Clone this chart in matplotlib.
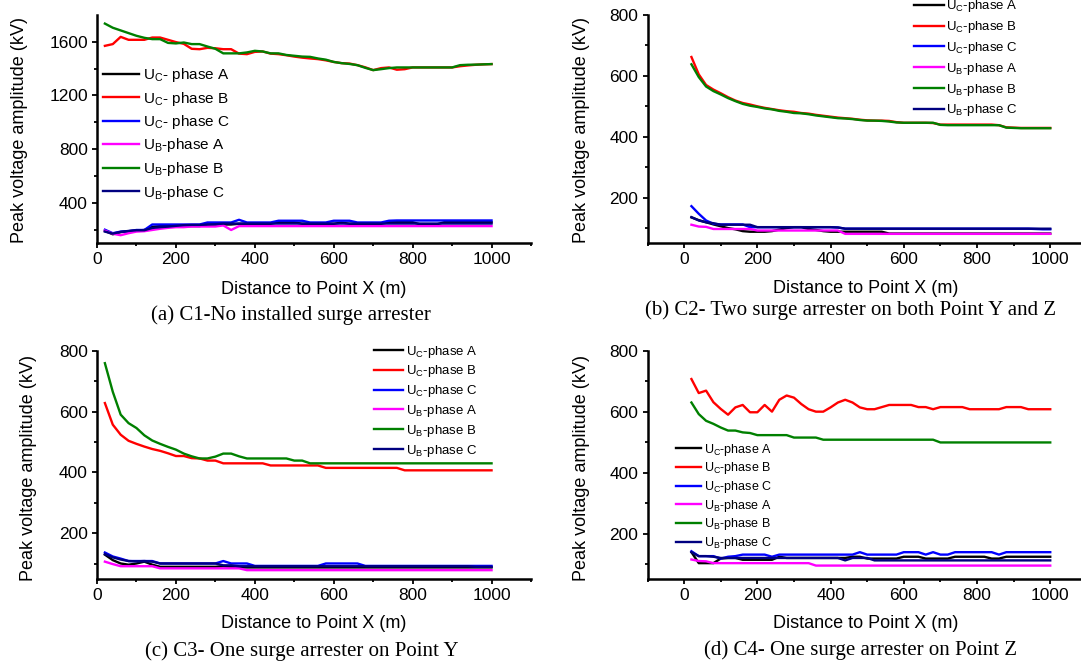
import matplotlib
matplotlib.use("Agg")
import matplotlib.pyplot as plt
from matplotlib.ticker import FixedLocator

plt.rcParams["font.family"] = ["Liberation Sans", "DejaVu Sans"]
plt.rcParams["mathtext.fontset"] = "custom"
plt.rcParams["mathtext.rm"] = "Liberation Sans"
plt.rcParams["mathtext.default"] = "regular"

W, H = 1081, 664

# distance to point X (m), shared by every case
DIST = [20, 40, 60, 80, 100, 120, 140, 160, 180, 200,
        220, 240, 260, 280, 300, 320, 340, 360, 380, 400,
        420, 440, 460, 480, 500, 520, 540, 560, 580, 600,
        620, 640, 660, 680, 700, 720, 740, 760, 780, 800,
        820, 840, 860, 880, 900, 920, 940, 960, 980, 1000]

# ---- C1: no surge arrester (kV)
c1_uc_a = [190, 165, 181, 188, 192, 197, 220, 226, 226, 226,
           226, 226, 226, 238, 238, 238, 238, 243, 243, 243,
           243, 243, 255, 255, 255, 243, 243, 243, 243, 243,
           253, 243, 243, 243, 243, 243, 255, 255, 255, 255,
           238, 238, 238, 255, 255, 255, 255, 255, 255, 255]
c1_uc_b = [1570, 1583, 1637, 1615, 1615, 1615, 1632, 1632, 1615, 1598,
           1585, 1548, 1545, 1555, 1552, 1545, 1545, 1512, 1508, 1525,
           1528, 1512, 1508, 1500, 1490, 1482, 1476, 1471, 1462, 1450,
           1441, 1438, 1426, 1410, 1389, 1404, 1409, 1392, 1396, 1409,
           1409, 1409, 1409, 1409, 1409, 1418, 1424, 1429, 1432, 1434]
c1_uc_c = [199, 173, 185, 188, 197, 197, 238, 238, 238, 238,
           238, 238, 238, 253, 253, 253, 253, 273, 253, 253,
           253, 253, 266, 266, 266, 266, 253, 253, 253, 266,
           266, 266, 253, 253, 253, 253, 266, 268, 268, 268,
           268, 268, 268, 268, 268, 268, 268, 268, 268, 268]
c1_ub_a = [192, 169, 158, 173, 185, 188, 197, 206, 213, 218,
           218, 223, 223, 223, 223, 231, 197, 226, 226, 226,
           226, 226, 226, 226, 226, 226, 226, 226, 226, 226,
           226, 226, 226, 226, 226, 226, 226, 226, 226, 226,
           226, 226, 226, 226, 226, 226, 226, 226, 226, 226]
c1_ub_b = [1736, 1705, 1685, 1665, 1645, 1630, 1620, 1620, 1592, 1588,
           1595, 1583, 1583, 1565, 1548, 1514, 1514, 1514, 1521, 1533,
           1528, 1514, 1514, 1502, 1496, 1490, 1488, 1476, 1467, 1450,
           1441, 1435, 1426, 1406, 1389, 1396, 1404, 1409, 1409, 1409,
           1409, 1409, 1409, 1409, 1409, 1426, 1429, 1430, 1432, 1434]
c1_ub_c = [185, 170, 183, 190, 195, 195, 212, 218, 222, 228,
           233, 235, 235, 238, 240, 245, 245, 245, 245, 245,
           245, 245, 245, 245, 245, 245, 245, 245, 245, 245,
           245, 245, 245, 245, 245, 245, 245, 245, 245, 245,
           245, 245, 245, 245, 245, 245, 245, 245, 245, 245]

# ---- C2: arresters on both point Y and Z (kV)
c2_uc_a = [135, 126, 119, 112, 106, 100, 96, 90, 88, 88,
           88, 90, 95, 100, 103, 103, 97, 94, 90, 88,
           88, 88, 88, 88, 88, 88, 88, 82, 82, 82,
           82, 82, 82, 82, 82, 82, 82, 82, 82, 82,
           82, 82, 82, 82, 82, 82, 82, 82, 82, 82]
c2_uc_b = [662, 605, 570, 555, 543, 530, 519, 511, 506, 500,
           495, 491, 487, 484, 482, 478, 476, 472, 469, 466,
           463, 461, 459, 456, 454, 453, 453, 452, 448, 446,
           446, 446, 446, 445, 440, 440, 440, 440, 440, 440,
           440, 440, 438, 431, 430, 429, 429, 429, 429, 429]
c2_uc_c = [172, 147, 125, 114, 112, 112, 112, 112, 103, 103,
           103, 103, 103, 103, 103, 103, 103, 103, 103, 103,
           102, 98, 98, 98, 98, 98, 98, 98, 98, 98,
           98, 98, 98, 98, 98, 98, 98, 98, 98, 98,
           98, 98, 98, 98, 98, 98, 98, 97, 96, 96]
c2_ub_a = [111, 105, 104, 97, 97, 97, 97, 97, 97, 92,
           92, 92, 92, 92, 92, 92, 92, 92, 92, 92,
           92, 81, 81, 81, 81, 81, 81, 81, 81, 81,
           81, 81, 81, 81, 81, 81, 81, 81, 81, 81,
           81, 81, 81, 81, 81, 81, 81, 81, 81, 81]
c2_ub_b = [638, 596, 565, 550, 539, 527, 517, 508, 502, 498,
           493, 490, 485, 482, 478, 477, 474, 470, 467, 464,
           461, 460, 458, 455, 453, 453, 452, 450, 447, 446,
           446, 446, 446, 446, 439, 438, 438, 438, 438, 438,
           438, 438, 438, 430, 429, 428, 428, 428, 428, 428]
c2_ub_c = [136, 125, 119, 116, 111, 111, 111, 111, 111, 103,
           103, 103, 103, 103, 103, 103, 103, 103, 103, 103,
           102, 98, 98, 98, 98, 98, 98, 98, 98, 98,
           98, 98, 98, 98, 98, 98, 98, 98, 98, 98,
           98, 98, 98, 98, 98, 98, 98, 98, 98, 98]

# ---- C3: arrester on point Y (kV)
c3_uc_a = [130, 112, 101, 97, 101, 107, 97, 90, 90, 90,
           90, 90, 90, 90, 90, 92, 90, 88, 88, 88,
           88, 88, 88, 88, 88, 88, 88, 88, 88, 88,
           88, 88, 88, 88, 88, 88, 88, 88, 88, 88,
           88, 88, 88, 88, 88, 88, 88, 88, 88, 88]
c3_uc_b = [628, 557, 524, 504, 494, 485, 477, 471, 463, 454,
           454, 447, 446, 439, 439, 430, 430, 430, 430, 430,
           430, 423, 423, 423, 423, 423, 423, 423, 415, 415,
           415, 415, 415, 415, 415, 415, 415, 415, 407, 407,
           407, 407, 407, 407, 407, 407, 407, 407, 407, 407]
c3_uc_c = [137, 124, 117, 109, 109, 109, 109, 101, 101, 101,
           101, 101, 101, 101, 101, 109, 101, 101, 101, 93,
           93, 93, 93, 93, 93, 93, 93, 93, 101, 101,
           101, 101, 101, 93, 93, 93, 93, 93, 93, 93,
           93, 93, 93, 93, 93, 93, 93, 93, 93, 93]
c3_ub_a = [107, 99, 92, 92, 92, 92, 92, 85, 85, 85,
           85, 85, 85, 85, 85, 85, 85, 85, 79, 79,
           79, 79, 79, 79, 79, 79, 79, 79, 79, 79,
           79, 79, 79, 79, 79, 79, 79, 79, 79, 79,
           79, 79, 79, 79, 79, 79, 79, 79, 79, 79]
c3_ub_b = [759, 665, 590, 562, 546, 522, 505, 494, 484, 475,
           462, 453, 446, 446, 452, 462, 462, 453, 446, 446,
           446, 446, 446, 446, 439, 439, 430, 430, 430, 430,
           430, 430, 430, 430, 430, 430, 430, 430, 430, 430,
           430, 430, 430, 430, 430, 430, 430, 430, 430, 430]
c3_ub_c = [132, 121, 114, 109, 108, 109, 107, 101, 101, 101,
           101, 101, 101, 101, 101, 95, 95, 92, 92, 92,
           92, 92, 92, 92, 92, 92, 92, 92, 92, 92,
           92, 92, 92, 92, 92, 92, 92, 92, 92, 92,
           92, 92, 92, 92, 92, 92, 92, 90, 90, 90]

# ---- C4: arrester on point Z (kV)
c4_uc_a = [139, 103, 103, 103, 118, 120, 120, 114, 114, 114,
           114, 114, 124, 120, 120, 120, 120, 120, 120, 120,
           120, 120, 124, 124, 118, 118, 118, 118, 118, 124,
           124, 124, 118, 118, 118, 118, 124, 124, 124, 124,
           124, 118, 118, 124, 124, 124, 124, 124, 124, 124]
c4_uc_b = [707, 661, 669, 631, 609, 590, 614, 622, 598, 598,
           622, 600, 639, 653, 646, 625, 608, 600, 600, 614,
           630, 639, 630, 614, 608, 608, 615, 622, 622, 622,
           622, 615, 615, 608, 615, 615, 615, 615, 608, 608,
           608, 608, 608, 615, 615, 615, 608, 608, 608, 608]
c4_uc_c = [142, 126, 126, 126, 118, 124, 126, 131, 131, 131,
           131, 124, 131, 131, 131, 131, 131, 131, 131, 131,
           131, 131, 131, 139, 131, 131, 131, 131, 131, 139,
           139, 139, 131, 139, 131, 131, 139, 139, 139, 139,
           139, 139, 131, 139, 139, 139, 139, 139, 139, 139]
c4_ub_a = [115, 110, 109, 103, 103, 103, 103, 103, 103, 103,
           103, 103, 103, 103, 103, 103, 103, 95, 95, 95,
           95, 95, 95, 95, 95, 95, 95, 95, 95, 95,
           95, 95, 95, 95, 95, 95, 95, 95, 95, 95,
           95, 95, 95, 95, 95, 95, 95, 95, 95, 95]
c4_ub_b = [630, 592, 570, 560, 548, 538, 538, 532, 530, 523,
           523, 523, 523, 523, 515, 515, 515, 515, 508, 508,
           508, 508, 508, 508, 508, 508, 508, 508, 508, 508,
           508, 508, 508, 508, 499, 499, 499, 499, 499, 499,
           499, 499, 499, 499, 499, 499, 499, 499, 499, 499]
c4_ub_c = [139, 126, 126, 124, 120, 120, 120, 120, 120, 120,
           120, 120, 120, 120, 120, 120, 120, 120, 120, 120,
           120, 112, 120, 120, 120, 112, 112, 112, 112, 112,
           112, 112, 112, 112, 112, 112, 112, 112, 112, 112,
           112, 112, 112, 112, 112, 112, 112, 112, 112, 112]

COLORS = ["#000000", "#ff0000", "#0000ff", "#ff00ff", "#008000", "#000080"]

LABELS_SPACED = ["U$_C$- phase A", "U$_C$- phase B", "U$_C$- phase C",
                 "U$_B$-phase A", "U$_B$-phase B", "U$_B$-phase C"]
LABELS_TIGHT = ["U$_C$-phase A", "U$_C$-phase B", "U$_C$-phase C",
                "U$_B$-phase A", "U$_B$-phase B", "U$_B$-phase C"]

CAPTIONS = ["(a) C1-No installed surge arrester",
            "(b) C2- Two surge arrester on both Point Y and Z",
            "(c) C3- One surge arrester on Point Y",
            "(d) C4- One surge arrester on Point Z"]

PANELS = [
    dict(series=[c1_uc_a, c1_uc_b, c1_uc_c, c1_ub_a, c1_ub_b, c1_ub_c],
         labels=LABELS_SPACED, box=(97, 15, 531, 243), xlim=(0, 1100), ylim=(100, 1800),
         ymajor=[400, 800, 1200, 1600], yminor=[200, 600, 1000, 1400],
         leg=dict(at=(103, 66), fs=11, hl=2.38, tp=0.22, ls=0.36),
         ylab=(20, 130), xlab=(314, 289), cap=(291, 315)),
    dict(series=[c2_uc_a, c2_uc_b, c2_uc_c, c2_ub_a, c2_ub_b, c2_ub_c],
         labels=LABELS_TIGHT, box=(647.5, 15, 1081, 243.3), xlim=(-100, 1084), ylim=(50, 800),
         ymajor=[200, 400, 600, 800], yminor=[100, 300, 500, 700],
         leg=dict(at=(914, -1.5), fs=9.5, hl=2.27, tp=0.15, ls=0.36),
         ylab=(581, 130), xlab=(866, 288), cap=(851, 310)),
    dict(series=[c3_uc_a, c3_uc_b, c3_uc_c, c3_ub_a, c3_ub_b, c3_ub_c],
         labels=LABELS_TIGHT, box=(97, 350.7, 531, 579), xlim=(0, 1100), ylim=(50, 800),
         ymajor=[200, 400, 600, 800], yminor=[100, 300, 500, 700],
         leg=dict(at=(374, 343.5), fs=9.5, hl=2.23, tp=0.16, ls=0.29),
         ylab=(28.5, 468), xlab=(314, 624), cap=(302, 651)),
    dict(series=[c4_uc_a, c4_uc_b, c4_uc_c, c4_ub_a, c4_ub_b, c4_ub_c],
         labels=LABELS_TIGHT, box=(647.5, 350.7, 1081, 579.3), xlim=(-100, 1084), ylim=(50, 800),
         ymajor=[200, 400, 600, 800], yminor=[100, 300, 500, 700],
         leg=dict(at=(676, 441.5), fs=9, hl=2.0, tp=0.27, ls=0.22),
         ylab=(581, 468), xlab=(866, 624), cap=(861, 650)),
]

X_MAJOR = [0, 200, 400, 600, 800, 1000]
X_MINOR = [-100, 100, 300, 500, 700, 900, 1100]


def fig_xy(x, y):
    return x / W, 1 - y / H


fig = plt.figure(figsize=(W / 100, H / 100), dpi=100)

for panel, caption in zip(PANELS, CAPTIONS):
    left, top, right, bottom = panel["box"]
    ax = fig.add_axes([left / W, 1 - bottom / H, (right - left) / W, (bottom - top) / H])

    for values, color, label in zip(panel["series"], COLORS, panel["labels"]):
        ax.plot(DIST, values, color=color, lw=1.7, label=label)

    ax.set_xlim(*panel["xlim"])
    ax.set_ylim(*panel["ylim"])
    ax.xaxis.set_major_locator(FixedLocator(X_MAJOR))
    ax.xaxis.set_minor_locator(FixedLocator(X_MINOR))
    ax.yaxis.set_major_locator(FixedLocator(panel["ymajor"]))
    ax.yaxis.set_minor_locator(FixedLocator(panel["yminor"]))

    for side in ("top", "right"):
        ax.spines[side].set_visible(False)
    for side in ("left", "bottom"):
        ax.spines[side].set_linewidth(1.8)
    ax.tick_params(which="major", direction="out", length=3.6, width=1.3,
                   labelsize=12.5, pad=3)
    ax.tick_params(which="minor", direction="out", length=2.4, width=1.3)

    ax.set_xlabel("Distance to Point X (m)", fontsize=13)
    ax.set_ylabel("Peak voltage amplitude (kV)", fontsize=13)
    ax.xaxis.set_label_coords(*fig_xy(*panel["xlab"]), transform=fig.transFigure)
    ax.yaxis.set_label_coords(*fig_xy(*panel["ylab"]), transform=fig.transFigure)
    ax.xaxis.label.set_va("center")
    ax.yaxis.label.set_va("center")

    leg = panel["leg"]
    ax.legend(loc="upper left", bbox_to_anchor=fig_xy(*leg["at"]),
              bbox_transform=fig.transFigure, frameon=False, borderpad=0,
              borderaxespad=0, fontsize=leg["fs"], handlelength=leg["hl"],
              handletextpad=leg["tp"], labelspacing=leg["ls"])

    fig.text(*fig_xy(*panel["cap"]), caption, ha="center", va="center",
             family="Liberation Serif", fontsize=15)

fig.savefig("out.png", dpi=100)
